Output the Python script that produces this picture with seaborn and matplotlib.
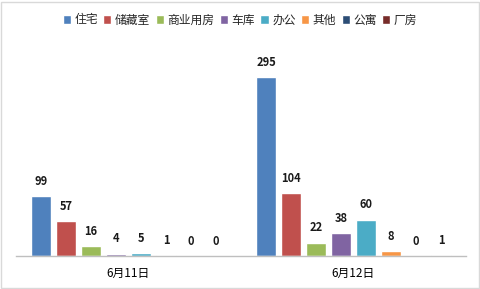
import matplotlib
matplotlib.use("Agg")
import matplotlib.pyplot as plt
import seaborn as sns
import pandas as pd
from matplotlib.patches import Rectangle

dates = ["6月11日", "6月12日"]
types = ["住宅", "储藏室", "商业用房", "车库", "办公", "其他", "公寓", "厂房"]
vals_0611 = [99, 57, 16, 4, 5, 1, 0, 0]
vals_0612 = [295, 104, 22, 38, 60, 8, 0, 1]
colors = ["#4F81BD", "#C0504D", "#9BBB59", "#8064A2", "#4BACC6", "#F79646", "#2C4D75", "#772C2A"]

rows = []
for t, a, b in zip(types, vals_0611, vals_0612):
    rows.append({"date": dates[0], "type": t, "value": a})
    rows.append({"date": dates[1], "type": t, "value": b})
df = pd.DataFrame(rows)

sns.set_theme(style="white")
plt.rcParams['font.family'] = ['Noto Sans CJK SC', 'DejaVu Sans']

W, H = 481, 289
fig = plt.figure(figsize=(W/100, H/100), dpi=100)
ax = fig.add_axes([16/W, (H-256)/H, 450/W, 212/H])
sns.barplot(data=df, x="date", y="value", hue="type", order=dates, hue_order=types,
            palette=colors, width=0.889, gap=0.2, ax=ax, legend=True, saturation=1)

for c in ax.containers:
    ax.bar_label(c, fmt="%d", padding=6, fontsize=8, fontweight="bold", color="#1a1a1a")

ax.set_ylim(0, 350)
ax.set_xlim(-0.5, 1.5)
ax.set_xlabel("")
ax.set_ylabel("")
ax.set_yticks([])
for s in ["top", "right", "left"]:
    ax.spines[s].set_visible(False)
ax.spines["bottom"].set_color("#BFBFBF")
ax.spines["bottom"].set_linewidth(1)
ax.tick_params(axis="x", which="major", length=0, labelsize=8.5, pad=8, colors="#000000")
ax.set_xticks([-0.5, 0.5, 1.5], minor=True)
ax.tick_params(axis="x", which="minor", length=6, color="#BFBFBF", width=1)

leg = ax.legend(loc="center", bbox_to_anchor=(240/W, (H-20)/H), bbox_transform=fig.transFigure,
                ncol=8, frameon=False, fontsize=8.5, handlelength=0.7, handleheight=0.7,
                handletextpad=0.3, columnspacing=0.45, borderaxespad=0, borderpad=0)

fig.patches.append(Rectangle((0.5/W, 1.5/H), (W-2)/W, (H-3)/H, transform=fig.transFigure,
                             fill=False, edgecolor="#D9D9D9", linewidth=1))

fig.savefig("out.png", dpi=100)
